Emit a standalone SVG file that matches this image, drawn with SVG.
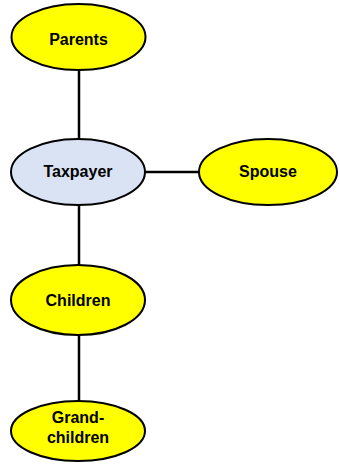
<svg xmlns="http://www.w3.org/2000/svg" width="339" height="464" viewBox="0 0 339 464">
<style>
.n{stroke:#000;stroke-width:2}
.y{fill:#ffff00}
.b{fill:#dae3f3}
.t{font-family:"Liberation Sans",Arial,sans-serif;font-weight:bold;font-size:16px;text-anchor:middle;fill:#000}
.c{stroke:#000;stroke-width:2.5;fill:none}
</style>
<g id="connectors">
<line class="c" x1="79" y1="70" x2="79" y2="139"/>
<line class="c" x1="145" y1="172" x2="199" y2="172"/>
<line class="c" x1="79" y1="205" x2="79" y2="265"/>
<line class="c" x1="79" y1="335" x2="79" y2="401"/>
</g>
<g id="parents"><ellipse class="n y" cx="78.5" cy="37" rx="67" ry="33"/><text class="t" x="78.5" y="45">Parents</text></g>
<g id="taxpayer"><ellipse class="n b" cx="78" cy="172" rx="67" ry="33"/><text class="t" x="78" y="177">Taxpayer</text></g>
<g id="spouse"><ellipse class="n y" cx="268" cy="172" rx="69" ry="33"/><text class="t" x="268" y="177">Spouse</text></g>
<g id="children"><ellipse class="n y" cx="78" cy="300" rx="67" ry="35"/><text class="t" x="78" y="306">Children</text></g>
<g id="grandchildren"><ellipse class="n y" cx="78" cy="431" rx="67" ry="30"/><text class="t" x="78" y="423">Grand-</text><text class="t" x="78" y="443">children</text></g>
</svg>
